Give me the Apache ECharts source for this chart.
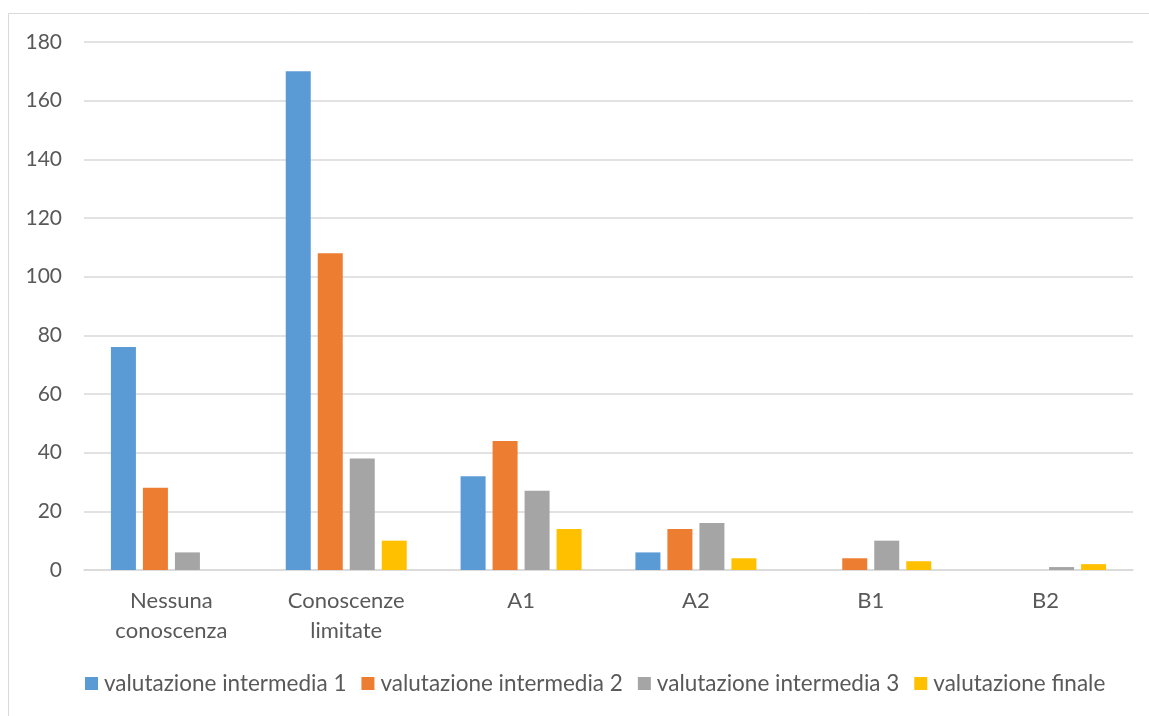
<!DOCTYPE html>
<html>
<head>
<meta charset="utf-8">
<script src="https://cdn.jsdelivr.net/npm/echarts@6/dist/echarts.min.js"></script>
<style>
  html, body { margin: 0; padding: 0; background: #fff; }
  #chart { width: 1149px; height: 716px; }
</style>
</head>
<body>
<div id="chart"></div>
<script>
// Livelli di conoscenza e numero di studenti per ciascuna valutazione
const categories = ['Nessuna\nconoscenza', 'Conoscenze\nlimitate', 'A1', 'A2', 'B1', 'B2'];
const seriesNames = ['valutazione intermedia 1', 'valutazione intermedia 2', 'valutazione intermedia 3', 'valutazione finale'];
const intermedia1 = [76, 170, 32, 6, 0, 0];
const intermedia2 = [28, 108, 44, 14, 4, 0];
const intermedia3 = [6, 38, 27, 16, 10, 1];
const finale = [0, 10, 14, 4, 3, 2];
const yTicks = [0, 20, 40, 60, 80, 100, 120, 140, 160, 180];

const colors = ['#5B9BD5', '#ED7D31', '#A5A5A5', '#FFC000'];
const font = 'Lato, "Open Sans", "Liberation Sans", sans-serif';
const values = [intermedia1, intermedia2, intermedia3, finale];

const chart = echarts.init(document.getElementById('chart'));
chart.setOption({
  animation: false,
  color: colors,
  textStyle: { fontFamily: font },
  graphic: [{
    type: 'rect',
    shape: { x: 8.5, y: 13.5, width: 1160, height: 720 },
    style: { fill: 'none', stroke: '#d9d9d9', lineWidth: 1 },
    silent: true
  }],
  grid: { left: 84, right: 16, top: 42, bottom: 146, containLabel: false },
  legend: {
    bottom: 16,
    left: 80,
    itemWidth: 13,
    itemHeight: 13,
    itemGap: 15,
    icon: 'rect',
    textStyle: { color: '#595959', fontSize: 22.5, fontFamily: font, padding: [0, 0, 0, 1] },
    data: seriesNames
  },
  xAxis: {
    type: 'category',
    data: categories,
    axisLine: { lineStyle: { color: '#d9d9d9', width: 1.5 } },
    axisTick: { show: false },
    axisLabel: { color: '#595959', fontSize: 22, lineHeight: 30, margin: 16, interval: 0 }
  },
  yAxis: {
    type: 'value',
    min: yTicks[0],
    max: yTicks[yTicks.length - 1],
    interval: yTicks[1] - yTicks[0],
    axisLine: { show: false },
    axisTick: { show: false },
    axisLabel: { color: '#595959', fontSize: 21, margin: 22, align: 'right' },
    splitLine: { lineStyle: { color: '#d9d9d9', width: 1.5 } }
  },
  series: seriesNames.map((name, i) => ({
    name,
    type: 'bar',
    data: values[i],
    barWidth: 25,
    barGap: '28%',
    barCategoryGap: '31%',
    itemStyle: { color: colors[i] }
  }))
});
</script>
</body>
</html>
